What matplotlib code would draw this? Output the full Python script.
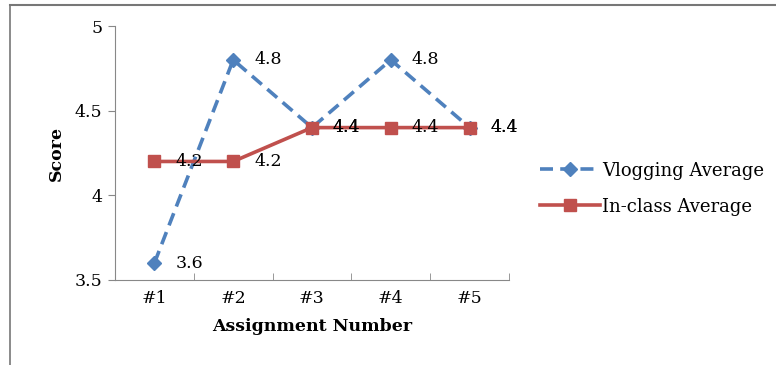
import matplotlib.pyplot as plt
from matplotlib.lines import Line2D

assignments = ['#1', '#2', '#3', '#4', '#5']
vlogging = [3.6, 4.8, 4.4, 4.8, 4.4]
inclass = [4.2, 4.2, 4.4, 4.4, 4.4]

blue = '#4F81BD'
red = '#C0504D'

plt.rcParams['font.family'] = 'DejaVu Serif'

fig = plt.figure(figsize=(7.76, 3.65), dpi=100)
ax = fig.add_axes([115 / 776, 1 - 280 / 365, 394 / 776, 254 / 365])

x = list(range(len(assignments)))
ax.plot(x, vlogging, color=blue, lw=2.6, ls=(0, (3.6, 2)), marker='D', ms=7,
        label='Vlogging Average', zorder=3)
ax.plot(x, inclass, color=red, lw=2.6, marker='s', ms=9,
        label='In-class Average', zorder=3)

for i, v in enumerate(vlogging):
    ax.annotate(f'{v}', (i, v), xytext=(15, 0), textcoords='offset points',
                va='center', ha='left', fontsize=12.5)
for i, v in enumerate(inclass):
    ax.annotate(f'{v}', (i, v), xytext=(15, 0), textcoords='offset points',
                va='center', ha='left', fontsize=12.5)

ax.set_xlim(-0.5, 4.5)
ax.set_ylim(3.5, 5)
ax.set_yticks([3.5, 4, 4.5, 5])
ax.set_yticklabels(['3.5', '4', '4.5', '5'])
ax.set_xticks(x)
ax.set_xticklabels(assignments)
ax.set_xticks([-0.5, 0.5, 1.5, 2.5, 3.5, 4.5], minor=True)
ax.tick_params(axis='x', which='major', length=0, pad=7, labelsize=12.5)
ax.tick_params(axis='x', which='minor', length=5, direction='in', color='#888888')
ax.tick_params(axis='y', length=5, direction='out', color='#888888', labelsize=12.5, pad=4)

for s in ['top', 'right']:
    ax.spines[s].set_visible(False)
for s in ['left', 'bottom']:
    ax.spines[s].set_color('#888888')

ax.set_xlabel('Assignment Number', fontweight='bold', fontsize=12.5, labelpad=8)
ax.set_ylabel('Score', fontweight='bold', fontsize=12.5, labelpad=7)

ax.legend(loc='center left', bbox_to_anchor=(1.079, 0.36), frameon=False,
          fontsize=13, handlelength=3.3, handletextpad=0.15, labelspacing=1.0,
          borderaxespad=0, borderpad=0)

# outer frame around the chart area
fig.add_artist(Line2D([10 / 776, 10 / 776], [0, 1 - 5 / 365], color='#777777', lw=1.2))
fig.add_artist(Line2D([10 / 776, 1], [1 - 5 / 365, 1 - 5 / 365], color='#777777', lw=1.5))

fig.savefig('out.png', dpi=100)
